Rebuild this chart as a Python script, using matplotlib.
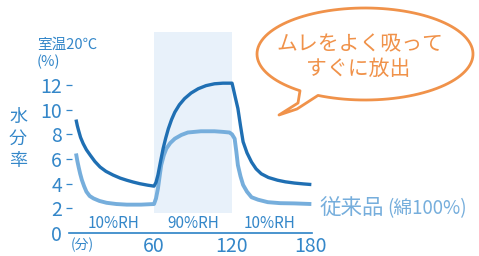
import numpy as np
import matplotlib
matplotlib.use('Agg')
import matplotlib.pyplot as plt
from matplotlib.path import Path
from matplotlib.patches import PathPatch

plt.rcParams['font.family'] = ['Noto Sans CJK JP', 'DejaVu Sans']

# moisture content (%) of the new fabric
t_new = [0, 1, 2, 3.5, 5.5, 8, 11, 14.5, 18.5, 23, 28.5, 34, 39, 44, 49, 55, 60,
         61.5, 63, 65, 67, 69, 71, 73.5, 76, 79.5, 83.5, 88.5, 94, 100, 106.5, 113, 120,
         121, 122.5, 124.5, 126.5, 128.5, 131.5, 135, 138.5, 142.5, 148, 155, 161, 168, 175, 181]
v_new = [9.2, 8.7, 8.3, 7.75, 7.25, 6.75, 6.3, 5.8, 5.35, 5.0, 4.7, 4.45, 4.28, 4.13, 4.0, 3.88, 3.8,
         4.1, 4.7, 5.8, 6.85, 7.7, 8.45, 9.2, 9.8, 10.4, 10.9, 11.35, 11.7, 11.95, 12.1, 12.15, 12.15,
         11.7, 11.0, 10.1, 8.7, 7.4, 6.5, 5.75, 5.2, 4.8, 4.5, 4.28, 4.15, 4.05, 3.98, 3.93]
# conventional cotton
t_old = [0, 1, 2, 3.2, 4.5, 6.2, 8, 10.5, 13.5, 18, 23.5, 31, 39, 50, 60,
         61.5, 63, 64.3, 65.5, 67.5, 69.5, 72.5, 76, 81, 86, 96, 106.5, 113, 118,
         120, 122, 123.3, 124.5, 126.5, 128.5, 131.5, 135, 140, 147.5, 157, 168, 181]
v_old = [6.45, 5.85, 5.35, 4.8, 4.3, 3.8, 3.35, 3.0, 2.8, 2.6, 2.45, 2.35, 2.3, 2.3, 2.35,
         2.8, 3.6, 4.6, 5.5, 6.3, 6.85, 7.3, 7.65, 7.95, 8.15, 8.25, 8.25, 8.2, 8.15,
         8.0, 7.65, 6.6, 5.5, 4.6, 3.9, 3.35, 2.9, 2.7, 2.5, 2.42, 2.4, 2.35]

humid_span = [60, 120]
rh_labels = ['10%RH', '90%RH', '10%RH']
rh_pos = [29, 90, 149]
yticks = [0, 2, 4, 6, 8, 10, 12]
xticks = [60, 120, 180]

dark = '#1f6fb3'
light = '#76aedc'
txt = '#3487c9'
orange = '#f0924a'

W, H = 479, 256
fig = plt.figure(figsize=(W/100, H/100), dpi=100)
ax = fig.add_axes([69/W, 23/H, 243/W, 201/H])
ax.set_xlim(-5.4, 181.5)
ax.set_ylim(0, 16.3)

ax.fill_between(humid_span, 1.6, 16.3, color='#e8f1fa', lw=0, zorder=0)
ax.plot(t_old, v_old, color=light, lw=2.8, solid_joinstyle='round', solid_capstyle='butt', zorder=2)
ax.plot(t_new, v_new, color=dark, lw=2.4, solid_joinstyle='round', solid_capstyle='butt', zorder=3)

for s in ['top', 'right', 'left']:
    ax.spines[s].set_visible(False)
ax.spines['bottom'].set_color('#2b82c6')
ax.spines['bottom'].set_linewidth(1.2)

ax.set_yticks(yticks)
ax.set_yticklabels([str(v) for v in yticks])
ax.tick_params(axis='y', direction='inout', length=4, width=0.9, color=txt,
               labelcolor=txt, labelsize=14, pad=3)
ax.yaxis.get_major_ticks()[0].tick1line.set_visible(False)
ax.set_xticks(xticks)
ax.set_xticklabels([str(v) for v in xticks])
ax.tick_params(axis='x', length=0, labelcolor=txt, labelsize=14, pad=2)

for lab, x in zip(rh_labels, rh_pos):
    ax.text(x, 0.75, lab, color=txt, fontsize=11, ha='center', va='center')
ax.text(4.6, -1.0, '(分)', color=txt, fontsize=10, ha='center', va='center')

fig.text(37/W, 1 - 45/H, '室温20℃', color=txt, fontsize=10.5, ha='left', va='center')
fig.text(37/W, 1 - 62/H, '(%)', color=txt, fontsize=10.5, ha='left', va='center')
for ch, y in zip('水分率', [117, 139, 161]):
    fig.text(18/W, 1 - y/H, ch, color=txt, fontsize=13, ha='center', va='center')
fig.text(320/W, 1 - 208/H, '従来品', color=light, fontsize=15.5, ha='left', va='center')
fig.text(387/W, 1 - 209/H, '(綿100%)', color=light, fontsize=13.5, ha='left', va='center')

# speech bubble
cx, cy, a, b = 365, 54, 108, 46
th = np.radians(np.linspace(127, 475.8, 120))
pts = [(cx + a*np.cos(q), cy + b*np.sin(q)) for q in th]
pts += [(297, 109), (279, 115), (298, 103), pts[0]]
verts = [(x/W, 1 - y/H) for x, y in pts]
codes = [Path.MOVETO] + [Path.LINETO]*(len(verts) - 2) + [Path.CLOSEPOLY]
fig.add_artist(PathPatch(Path(verts, codes), facecolor='white', edgecolor=orange, lw=2,
                         transform=fig.transFigure, zorder=5, joinstyle='round'))
fig.text(360/W, 1 - 44/H, 'ムレをよく吸って', color=orange, fontsize=15, ha='center', va='center', zorder=6)
fig.text(358/W, 1 - 69/H, 'すぐに放出', color=orange, fontsize=15, ha='center', va='center', zorder=6)

fig.savefig('out.png', dpi=100)
